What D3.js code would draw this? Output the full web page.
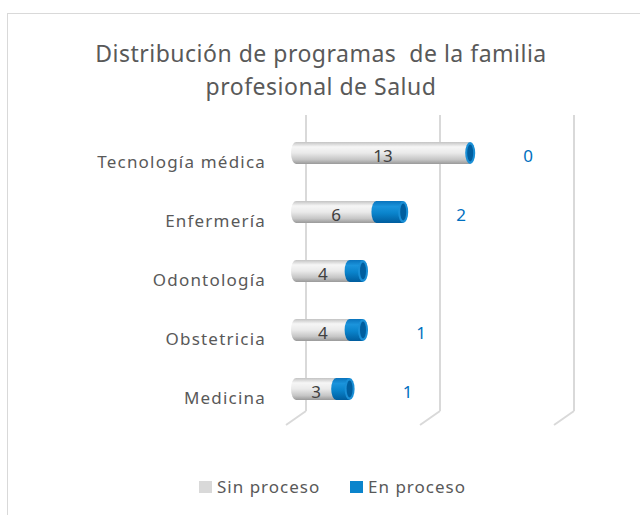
<!DOCTYPE html>
<html>
<head>
<meta charset="utf-8">
<script src="https://cdn.jsdelivr.net/npm/d3@7"></script>
<style>
  body { margin: 0; background: #fff; }
  svg text { font-family: "Noto Sans", sans-serif; white-space: pre; }
</style>
</head>
<body>
<div id="chart"></div>
<script>
// data
const categories = ["Tecnología médica", "Enfermería", "Odontología", "Obstetricia", "Medicina"];
const sinProceso = [13, 6, 4, 4, 3];
const enProceso  = [0, 2, 1, 1, 1];
const enProcesoLabels = ["0", "2", null, "1", "1"]; // odontología label isn't shown in the original
const axisTicks = [0, 10, 20];

const width = 640;
const height = 515;

const svg = d3.select("#chart")
    .append("svg")
    .attr("width", width)
    .attr("height", height);

// chart frame
svg.append("rect")
    .attr("x", 7.5).attr("y", 13.5)
    .attr("width", width).attr("height", height)
    .attr("fill", "white")
    .attr("stroke", "#d9d9d9");

// title (the double space is in the original)
const title = svg.append("text")
    .attr("text-anchor", "middle")
    .attr("fill", "#595959")
    .attr("font-size", 23)
    .attr("letter-spacing", 0.5);
title.append("tspan").attr("x", 321).attr("y", 62).text("Distribución de programas  de la familia");
title.append("tspan").attr("x", 321).attr("y", 95).text("profesional de Salud");

// scales - back wall, floor front edge and the bars sit at a depth in between
const xWall = d3.scaleLinear().domain([0, 20]).range([306, 574]);
const xFloor = d3.scaleLinear().domain([0, 20]).range([286, 554]);
const x = d3.scaleLinear().domain([0, 20]).range([296, 564]);
const y = d3.scaleBand().domain(categories).range([123.5, 418.5])
    .paddingInner(0.63).paddingOuter(0.315);

const wallTop = 115, wallBottom = 411, floorFront = 425;

// gridlines in the back wall + floor lines
const grid = svg.append("g").attr("stroke", "#d9d9d9").attr("stroke-width", 2).attr("fill", "none");
grid.selectAll("line.wall")
    .data(axisTicks)
    .join("line")
    .attr("class", "wall")
    .attr("x1", d => xWall(d)).attr("x2", d => xWall(d))
    .attr("y1", wallTop).attr("y2", wallBottom);
grid.selectAll("line.floor")
    .data(axisTicks)
    .join("line")
    .attr("class", "floor")
    .attr("x1", d => xWall(d)).attr("y1", wallBottom)
    .attr("x2", d => xFloor(d)).attr("y2", floorFront);

// category labels
svg.append("g")
    .selectAll("text")
    .data(categories)
    .join("text")
    .attr("x", 266)
    .attr("y", d => y(d) + y.bandwidth() / 2 + 15)
    .attr("text-anchor", "end")
    .attr("fill", "#595959")
    .attr("font-size", 17)
    .attr("letter-spacing", 1.2)
    .text(d => d);

// gradients for the cylinders
const defs = svg.append("defs");
const grey = defs.append("linearGradient").attr("id", "greyGrad").attr("x1", 0).attr("x2", 0).attr("y1", 0).attr("y2", 1);
[["0%", "#c4c4c4"], ["22%", "#f6f6f6"], ["50%", "#eaeaea"], ["80%", "#c6c6c6"], ["100%", "#9a9a9a"]]
    .forEach(s => grey.append("stop").attr("offset", s[0]).attr("stop-color", s[1]));
const blue = defs.append("linearGradient").attr("id", "blueGrad").attr("x1", 0).attr("x2", 0).attr("y1", 0).attr("y2", 1);
[["0%", "#0a74bd"], ["25%", "#1b94dc"], ["55%", "#0a84cc"], ["100%", "#005d9e"]]
    .forEach(s => blue.append("stop").attr("offset", s[0]).attr("stop-color", s[1]));

const rx = 5;
const bars = svg.append("g");

categories.forEach((c, i) => {
    const y0 = y(c), h = y.bandwidth(), cy = y0 + h / 2;
    const g = bars.append("g");
    const xs = x(0), xm = x(sinProceso[i]), xe = x(sinProceso[i] + enProceso[i]);

    // grey body with rounded left end
    g.append("path")
        .attr("d", `M${xm},${y0} L${xs},${y0} A${rx},${h / 2} 0 0 0 ${xs},${y0 + h} L${xm},${y0 + h} Z`)
        .attr("fill", "url(#greyGrad)");

    // blue body, its left edge follows the grey cylinder's end
    if (enProceso[i] > 0) {
        g.append("path")
            .attr("d", `M${xe},${y0} L${xm},${y0} A${rx},${h / 2} 0 0 0 ${xm},${y0 + h} L${xe},${y0 + h} Z`)
            .attr("fill", "url(#blueGrad)");
    }

    // end cap
    g.append("ellipse")
        .attr("cx", xe).attr("cy", cy)
        .attr("rx", rx).attr("ry", h / 2)
        .attr("fill", "#1a8fd6");
    g.append("ellipse")
        .attr("cx", xe).attr("cy", cy)
        .attr("rx", rx - 2).attr("ry", h / 2 - 2.5)
        .attr("fill", "#005e9f");

    // grey value label
    g.append("text")
        .attr("x", (xs + xm) / 2)
        .attr("y", cy + 9)
        .attr("text-anchor", "middle")
        .attr("fill", "#404040")
        .attr("font-size", 17)
        .text(sinProceso[i]);

    // blue value label
    if (enProcesoLabels[i] !== null) {
        g.append("text")
            .attr("x", xe + 58)
            .attr("y", cy + 9)
            .attr("text-anchor", "middle")
            .attr("fill", "#0070c0")
            .attr("font-size", 17)
            .text(enProcesoLabels[i]);
    }
});

// legend
const legendItems = [["Sin proceso", "#d9d9d9"], ["En proceso", "#0a84cc"]];
const legend = svg.append("g").attr("transform", "translate(199, 481)");
const item = legend.selectAll("g")
    .data(legendItems)
    .join("g")
    .attr("transform", (d, i) => `translate(${i * 151}, 0)`);
item.append("rect").attr("width", 13).attr("height", 12).attr("fill", d => d[1]);
item.append("text")
    .attr("x", 18).attr("y", 12)
    .attr("fill", "#595959")
    .attr("font-size", 17)
    .attr("letter-spacing", 1)
    .text(d => d[0]);
</script>
</body>
</html>
